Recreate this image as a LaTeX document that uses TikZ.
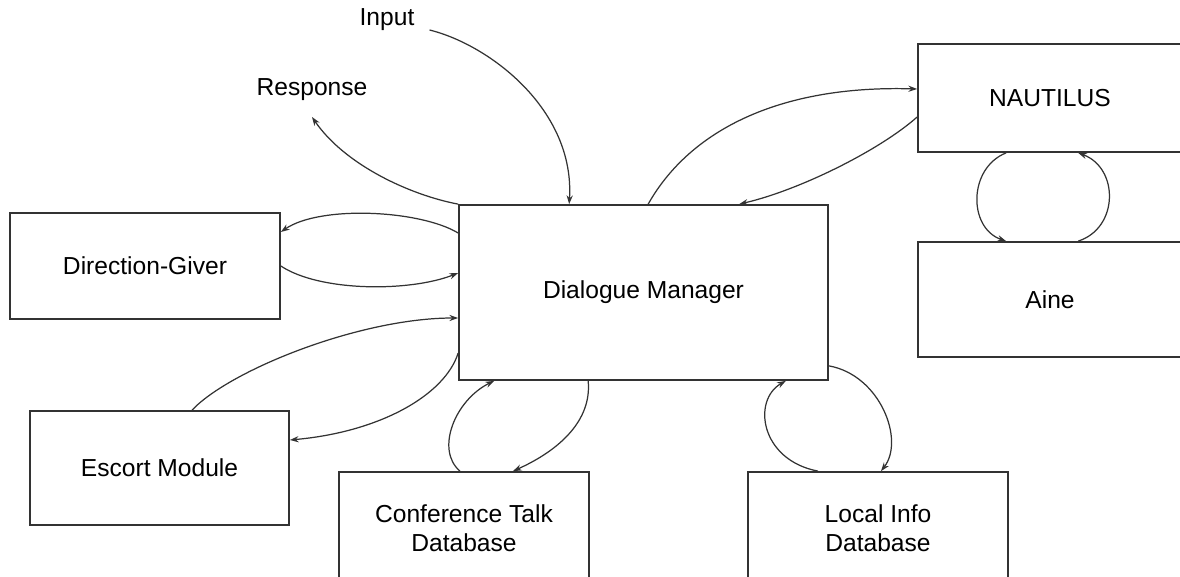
\documentclass[tikz,border=0pt]{standalone}
\usepackage{fontspec}
\setmainfont{Liberation Sans}
\usetikzlibrary{arrows.meta,calc}

\tikzset{
  box/.style={draw=black!80, line width=1pt, inner sep=0pt, align=center,
    font=\fontsize{14}{16.5}\selectfont},
  tag/.style={font=\fontsize{14}{16.5}\selectfont},
  link/.style={draw=black!80, line width=0.7pt, -{Stealth[length=5pt,width=3.5pt]}}
}

\begin{document}
\begin{tikzpicture}[x=0.02cm, y=-0.02cm]
  \useasboundingbox (0,0) rectangle (1180,577);
  \clip (0,0) rectangle (1180,577);

  \node[box, minimum width=7.38cm, minimum height=3.5cm] (dm) at (643.5,292.5) {Dialogue Manager};
  \node[box, minimum width=5.4cm, minimum height=2.12cm] (dg) at (145,266) {Direction-Giver};
  \node[box, minimum width=5.18cm, minimum height=2.28cm] (esc) at (159.5,468) {Escort Module};
  \node[box, minimum width=5cm, minimum height=2.26cm] (ctd) at (464,528.5) {Conference Talk\\Database};
  \node[box, minimum width=5.2cm, minimum height=2.26cm] (lid) at (878,528.5) {Local Info\\Database};
  \node[box, minimum width=5.28cm, minimum height=2.16cm] (nau) at (1050,98) {NAUTILUS};
  \node[box, minimum width=5.28cm, minimum height=2.3cm] (aine) at (1050,299.5) {Aine};

  \node[tag] (inp) at (387,20) {Input};
  \node[tag] (resp) at (312,90) {Response};

  \draw[link] ($(inp.east)+(9,10)$) .. controls (490,45) and (575,110) .. ($(dm.north west)+(111,0)$);
  \draw[link] (dm.north west) .. controls (410,195) and (345,165) .. ($(resp.center)+(0,27)$);

  \draw[link] ($(dm.north west)+(190,0)$) .. controls (690,130) and (780,85) .. ($(nau.west)+(0,-9)$);
  \draw[link] ($(nau.west)+(0,19)$) .. controls (880,150) and (800,190) .. ($(dm.north west)+(281,0)$);

  \draw[link] ($(nau.south west)+(89,0)$) .. controls (968,168) and (968,228) .. ($(aine.north west)+(89,0)$);
  \draw[link] ($(aine.north west)+(161,0)$) .. controls (1119,228) and (1119,168) .. ($(nau.south west)+(161,0)$);

  \draw[link] ($(dm.west)+(0,-59.5)$) .. controls (420,210) and (320,205) .. ($(dg.east)+(0,-34)$);
  \draw[link] (dg.east) .. controls (320,292) and (410,292) .. ($(dm.west)+(0,-19.5)$);

  \draw[link] ($(esc.north)+(32.5,0)$) .. controls (230,370) and (360,318) .. ($(dm.west)+(0,25.5)$);
  \draw[link] ($(dm.west)+(0,60.5)$) .. controls (445,395) and (380,432) .. ($(esc.east)+(0,-28)$);

  \draw[link] ($(ctd.north)+(-4,0)$) .. controls (435,450) and (455,400) .. ($(dm.south west)+(36,0)$);
  \draw[link] ($(dm.south west)+(130,0)$) .. controls (592,420) and (560,450) .. ($(ctd.north)+(49,0)$);

  \draw[link] ($(lid.north)+(-60,0)$) .. controls (760,460) and (752,400) .. ($(dm.south east)+(-43,0)$);
  \draw[link] ($(dm.south east)+(0,-15)$) .. controls (880,375) and (905,440) .. ($(lid.north)+(3,0)$);
\end{tikzpicture}
\end{document}
